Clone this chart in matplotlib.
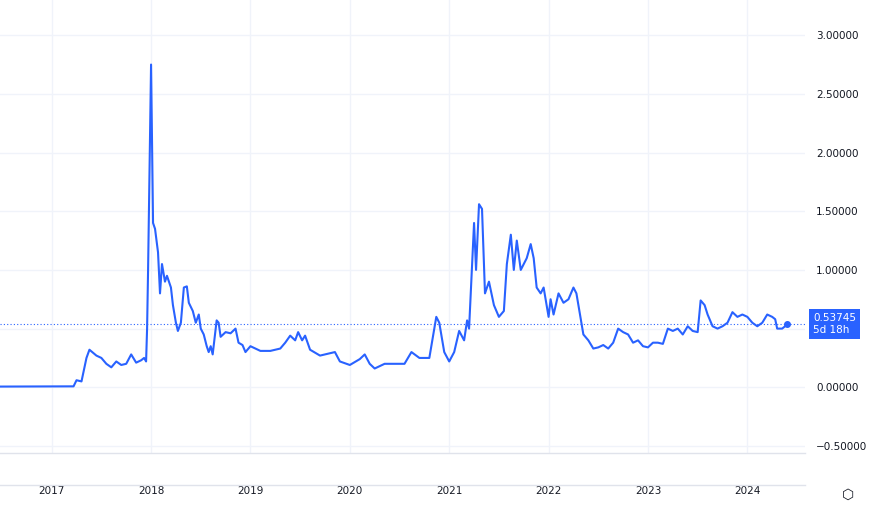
import matplotlib
matplotlib.use("Agg")
import matplotlib.pyplot as plt
from matplotlib.lines import Line2D

t = [2016.48, 2017.0, 2017.22, 2017.25, 2017.3, 2017.35, 2017.38, 2017.45, 2017.5, 2017.55, 2017.6, 2017.65, 2017.7, 2017.75, 2017.8, 2017.85, 2017.9, 2017.93, 2017.95,
     2017.96, 2017.97, 2017.99, 2018.0, 2018.02, 2018.04, 2018.07, 2018.09, 2018.11, 2018.14, 2018.16, 2018.2, 2018.22, 2018.25, 2018.27, 2018.3, 2018.33, 2018.36, 2018.38, 2018.42, 2018.45, 2018.48, 2018.5, 2018.53, 2018.56, 2018.58, 2018.6, 2018.62, 2018.66, 2018.68, 2018.7, 2018.75, 2018.8, 2018.85, 2018.88, 2018.92, 2018.95,
     2019.0, 2019.1, 2019.2, 2019.3, 2019.35, 2019.4, 2019.45, 2019.48, 2019.52, 2019.55, 2019.6, 2019.7, 2019.8, 2019.85, 2019.9,
     2020.0, 2020.1, 2020.15, 2020.2, 2020.25, 2020.35, 2020.45, 2020.55, 2020.62, 2020.7, 2020.8, 2020.87, 2020.9, 2020.95,
     2021.0, 2021.05, 2021.1, 2021.15, 2021.18, 2021.2, 2021.25, 2021.27, 2021.3, 2021.33, 2021.36, 2021.4, 2021.45, 2021.5, 2021.55, 2021.58, 2021.62, 2021.65, 2021.68, 2021.72, 2021.75, 2021.78, 2021.82, 2021.85, 2021.88, 2021.92, 2021.95,
     2022.0, 2022.02, 2022.05, 2022.1, 2022.15, 2022.2, 2022.25, 2022.28, 2022.32, 2022.35, 2022.4, 2022.45, 2022.5, 2022.55, 2022.6, 2022.65, 2022.7, 2022.75, 2022.8, 2022.85, 2022.9, 2022.95,
     2023.0, 2023.05, 2023.1, 2023.15, 2023.2, 2023.25, 2023.3, 2023.35, 2023.4, 2023.45, 2023.5, 2023.53, 2023.57, 2023.6, 2023.65, 2023.7, 2023.75, 2023.8, 2023.85, 2023.9, 2023.95,
     2024.0, 2024.05, 2024.1, 2024.15, 2024.2, 2024.25, 2024.28, 2024.3, 2024.35, 2024.38, 2024.4]
price = [0.006, 0.007, 0.008, 0.06, 0.05, 0.25, 0.32, 0.27, 0.25, 0.2, 0.17, 0.22, 0.19, 0.2, 0.28, 0.21, 0.23, 0.25, 0.22,
         0.5, 1.0, 2.2, 2.75, 1.4, 1.35, 1.15, 0.8, 1.05, 0.9, 0.95, 0.85, 0.7, 0.55, 0.48, 0.55, 0.85, 0.86, 0.72, 0.65, 0.55, 0.62, 0.5, 0.45, 0.35, 0.3, 0.35, 0.28, 0.57, 0.55, 0.43, 0.47, 0.46, 0.5, 0.38, 0.36, 0.3,
         0.35, 0.31, 0.31, 0.33, 0.38, 0.44, 0.4, 0.47, 0.4, 0.44, 0.32, 0.27, 0.29, 0.3, 0.22,
         0.19, 0.24, 0.28, 0.2, 0.16, 0.2, 0.2, 0.2, 0.3, 0.25, 0.25, 0.6, 0.55, 0.3,
         0.22, 0.3, 0.48, 0.4, 0.57, 0.5, 1.4, 1.0, 1.56, 1.52, 0.8, 0.9, 0.7, 0.6, 0.65, 1.05, 1.3, 1.0, 1.25, 1.0, 1.05, 1.1, 1.22, 1.1, 0.85, 0.8, 0.85,
         0.6, 0.75, 0.62, 0.8, 0.72, 0.75, 0.85, 0.8, 0.6, 0.45, 0.4, 0.33, 0.34, 0.36, 0.33, 0.38, 0.5, 0.47, 0.45, 0.38, 0.4, 0.35,
         0.34, 0.38, 0.38, 0.37, 0.5, 0.48, 0.5, 0.45, 0.52, 0.48, 0.47, 0.74, 0.7, 0.62, 0.52, 0.5, 0.52, 0.55, 0.64, 0.6, 0.62,
         0.6, 0.55, 0.52, 0.55, 0.62, 0.6, 0.58, 0.5, 0.5, 0.52, 0.53745]
last = 0.53745
years = [2017, 2018, 2019, 2020, 2021, 2022, 2023, 2024]
yticks = [-0.5, 0.0, 0.5, 1.0, 1.5, 2.0, 2.5, 3.0]

W, H = 869, 514
fig = plt.figure(figsize=(W/100, H/100), dpi=100)
ax = fig.add_axes([0, (H-453)/H, 805/W, 453/H])
blue = "#2962ff"
ax.plot(t, price, color=blue, lw=1.5)
ax.plot([t[-1]], [last], 'o', color=blue, ms=4)
ax.axhline(last, color=blue, lw=0.8, ls=(0, (1, 2)))
ax.set_xlim(2016.48, 2024.58)
ax.set_ylim(-0.56, 3.30)
ax.set_xticks(years)
ax.set_xticklabels([str(y) for y in years])
ax.set_yticks(yticks)
# the 0.5 label is hidden behind the last-price box, as in the reference
ax.set_yticklabels(["" if v == 0.5 else f"{v:.5f}".replace("-", "\u2212") for v in yticks])
ax.yaxis.tick_right()
ax.tick_params(axis='y', length=0, pad=8, labelsize=7.5, labelcolor="#131722")
ax.tick_params(axis='x', length=0, pad=24, labelsize=7.5, labelcolor="#131722")
ax.grid(True, color="#f0f3fa", lw=1)
for s in ax.spines.values():
    s.set_visible(False)
ax.text(1.01, last, "0.53745\n5d 18h", transform=ax.get_yaxis_transform(), va='center', ha='left',
        color='white', fontsize=7.5, linespacing=1.3,
        bbox=dict(boxstyle='square,pad=0.35', fc=blue, ec='none'))
fig.add_artist(Line2D([0, 805/W], [1-453/H, 1-453/H], color="#e0e3eb", lw=1))
fig.add_artist(Line2D([0, 805/W], [1-485/H, 1-485/H], color="#e0e3eb", lw=1))
fig.text(848/W, 1-495/H, "\u2b21", fontsize=10, ha='center', va='center', color="#131722", family=['DejaVu Sans'])
fig.savefig("out.png", dpi=100)
